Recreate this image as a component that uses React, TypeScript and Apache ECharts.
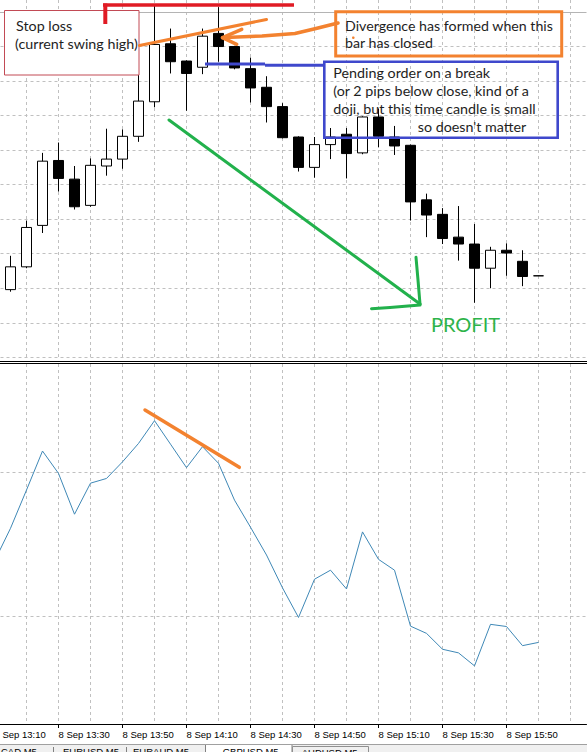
import React, { useEffect, useRef } from "react";
import * as echarts from "echarts";

// Time categories (M5 bars), tick labels come from these
const categories = [
  "8 Sep 13:10", "8 Sep 13:15", "8 Sep 13:20", "8 Sep 13:25", "8 Sep 13:30", "8 Sep 13:35",
  "8 Sep 13:40", "8 Sep 13:45", "8 Sep 13:50", "8 Sep 13:55", "8 Sep 14:00", "8 Sep 14:05",
  "8 Sep 14:10", "8 Sep 14:15", "8 Sep 14:20", "8 Sep 14:25", "8 Sep 14:30", "8 Sep 14:35",
  "8 Sep 14:40", "8 Sep 14:45", "8 Sep 14:50", "8 Sep 14:55", "8 Sep 15:00", "8 Sep 15:05",
  "8 Sep 15:10", "8 Sep 15:15", "8 Sep 15:20", "8 Sep 15:25", "8 Sep 15:30", "8 Sep 15:35",
  "8 Sep 15:40", "8 Sep 15:45", "8 Sep 15:50", "8 Sep 15:55", "8 Sep 16:00", "8 Sep 16:05",
  "8 Sep 16:10", "8 Sep 16:15",
];

// GBPUSD M5 candles, first bar 13:15, last bar 16:00
const opens = [
  1.61598, 1.61631, 1.61691, 1.61785, 1.61758, 1.61720, 1.61777, 1.61787, 1.61820, 1.61870,
  1.61954, 1.61929, 1.61920, 1.61969, 1.61950, 1.61918, 1.61891, 1.61863, 1.61819, 1.61775,
  1.61808, 1.61823, 1.61796, 1.61848, 1.61819, 1.61807, 1.61728, 1.61707, 1.61674, 1.61664,
  1.61629, 1.61655, 1.61639, 1.61618,
];
const closes = [
  1.61631, 1.61688, 1.61784, 1.61759, 1.61718, 1.61778, 1.61787, 1.61820, 1.61871, 1.61953,
  1.61928, 1.61911, 1.61965, 1.61950, 1.61919, 1.61890, 1.61863, 1.61818, 1.61775, 1.61808,
  1.61819, 1.61795, 1.61848, 1.61820, 1.61806, 1.61725, 1.61706, 1.61672, 1.61664, 1.61629,
  1.61655, 1.61651, 1.61617, 1.61618,
];
const lows = [
  1.61595, 1.61629, 1.61680, 1.61740, 1.61714, 1.61718, 1.61763, 1.61773, 1.61812, 1.61862,
  1.61911, 1.61857, 1.61910, 1.61928, 1.61917, 1.61869, 1.61840, 1.61817, 1.61769, 1.61760,
  1.61787, 1.61759, 1.61794, 1.61804, 1.61793, 1.61698, 1.61674, 1.61664, 1.61640, 1.61579,
  1.61600, 1.61618, 1.61603, 1.61618,
];
const highs = [
  1.61647, 1.61698, 1.61796, 1.61811, 1.61777, 1.61788, 1.61831, 1.61830, 1.61909, 1.62009,
  1.61976, 1.61930, 1.61976, 1.62007, 1.61951, 1.61934, 1.61907, 1.61868, 1.61820, 1.61819,
  1.61832, 1.61832, 1.61849, 1.61860, 1.61835, 1.61808, 1.61737, 1.61716, 1.61719, 1.61693,
  1.61660, 1.61665, 1.61655, 1.61618,
];
const bidPrice = 1.61618;
// price grid levels (first, last, step)
const priceLevels = [1.615, 1.62];
const priceStep = 0.0005;

// Oscillator, first value 13:10, last 16:00
const oscillator = [
  0.000154, 0.000245, 0.000351, 0.000459, 0.000397, 0.000284, 0.00037, 0.000383, 0.000429,
  0.00048, 0.000543, 0.000478, 0.000413, 0.000471, 0.000425, 0.000323, 0.000248, 0.000171,
  0.00008, -0.000002, 0.000104, 0.000129, 0.000077, 0.000235, 0.000159, 0.000129, -0.000026,
  -0.000046, -0.00009, -0.0001, -0.000136, -0.000021, -0.000027, -0.00008, -0.000071,
];
const oscLevels = [0, 0.0004];

const GRID = "#c0c0c0";
const DASH = [3, 3];
const ORANGE = "#f3822f";
const BLUE = "#3f48cc";
const GREEN = "#22b14c";
const RED = "#e01b24";
const TEXTC = "#1e1e1e";
const NOTE_FONT = "14.3px Lato";
const BIG_NOTE_FONT = "14.2px Lato";
const TAB_FONT = "9.5px Liberation Sans";

const txt = (text: string, x: number, y: number, font: string, fill: string, align = "left") => ({
  type: "text",
  x,
  y,
  z: 100,
  silent: true,
  style: { text, font, fill, align, textAlign: align, verticalAlign: "middle", textVerticalAlign: "middle" },
});
const ln = (x1: number, y1: number, x2: number, y2: number, stroke: string, lineWidth: number, cap = "round") => ({
  type: "line",
  z: 100,
  silent: true,
  shape: { x1, y1, x2, y2 },
  style: { stroke, lineWidth, lineCap: cap },
});
const poly = (points: number[][], stroke: string, lineWidth: number) => ({
  type: "polyline",
  z: 100,
  silent: true,
  shape: { points },
  style: { stroke, lineWidth, fill: "none", lineCap: "round", lineJoin: "round" },
});
const box = (x: number, y: number, w: number, h: number, stroke: string, lineWidth: number, fill = "none") => ({
  type: "rect",
  z: 99,
  silent: true,
  shape: { x, y, width: w, height: h },
  style: { stroke, lineWidth, fill },
});

export default function App() {
  const ref = useRef<HTMLDivElement>(null);
  useEffect(() => {
    const chart = echarts.init(ref.current!, null, { renderer: "svg" });

    const candleData = categories.map((_, i) => {
      const k = i - 1;
      return k >= 0 && k < opens.length ? [opens[k], closes[k], lows[k], highs[k]] : ["-", "-", "-", "-"];
    });
    const oscData = categories.map((_, i) => (i < oscillator.length ? oscillator[i] : "-"));

    const vSplit = {
      show: true,
      interval: (i: number) => i % 2 === 0,
      lineStyle: { color: GRID, type: DASH, width: 1 },
    };
    const hSplit = { show: true, lineStyle: { color: GRID, type: DASH, width: 1 } };
    const labelEvery = (i: number) => i % 4 === 0 && i < 36;
    const hidden = { axisLine: { show: false }, axisTick: { show: false }, axisLabel: { show: false } };
    const g = { left: -5.5, right: 0.5, outerBoundsMode: "none", containLabel: false };

    const option: any = {
      animation: false,
      backgroundColor: "#ffffff",
      grid: [
        { ...g, top: 0, height: 360 },
        { ...g, top: 364, height: 360 },
        { ...g, top: 12, height: 345.3 },
        { ...g, top: 472.3, height: 144.4 },
      ],
      xAxis: [
        { type: "category", gridIndex: 0, data: categories, boundaryGap: false, ...hidden, splitLine: vSplit },
        {
          type: "category", gridIndex: 1, data: categories, boundaryGap: false,
          axisLine: { show: true, onZero: false, lineStyle: { color: "#000", width: 1 } },
          axisTick: { show: true, interval: labelEvery, length: 4, lineStyle: { color: "#000" } },
          axisLabel: {
            show: true, interval: labelEvery, align: "left", margin: 5, fontSize: 9.5,
            fontFamily: "Liberation Sans", color: "#000",
          },
          splitLine: vSplit,
        },
        { type: "category", gridIndex: 2, data: categories, boundaryGap: false, ...hidden, splitLine: { show: false } },
        { type: "category", gridIndex: 3, data: categories, boundaryGap: false, ...hidden, splitLine: { show: false } },
      ],
      yAxis: [
        { type: "value", gridIndex: 0, min: 1.6149609, max: 1.6201738, show: false },
        { type: "value", gridIndex: 1, min: -0.000297, max: 0.0007, show: false },
        {
          type: "value", gridIndex: 2, min: priceLevels[0], max: priceLevels[1], interval: priceStep,
          ...hidden, splitLine: hSplit,
        },
        {
          type: "value", gridIndex: 3, min: oscLevels[0], max: oscLevels[1], interval: oscLevels[1] - oscLevels[0],
          ...hidden, splitLine: hSplit,
        },
      ],
      series: [
        {
          type: "candlestick",
          xAxisIndex: 0, yAxisIndex: 0,
          data: candleData,
          barWidth: 10,
          silent: true,
          z: 3,
          itemStyle: { color: "#ffffff", color0: "#000000", borderColor: "#000000", borderColor0: "#000000", borderWidth: 1 },
          markLine: {
            silent: true, z: 1, symbol: ["none", "none"], label: { show: false },
            data: [{ yAxis: bidPrice, lineStyle: { color: "#b4b4b4", type: "solid", width: 1 } }],
          },
        },
        {
          type: "line",
          xAxisIndex: 1, yAxisIndex: 1,
          data: oscData,
          symbol: "none",
          silent: true,
          z: 3,
          lineStyle: { color: "#3f88b6", width: 1 },
        },
      ],
      graphic: [
        // panel separator
        ln(0, 361.5, 587, 361.5, "#000", 1, "butt"),
        ln(0, 363.5, 587, 363.5, "#000", 1, "butt"),
        // stop loss
        ln(103, 5, 294, 5, RED, 3.4, "butt"),
        ln(105.3, 3.5, 105.3, 24, RED, 4, "butt"),
        box(4.5, 10.5, 134.5, 64.5, "#c24a55", 1, "#ffffff"),
        txt("Stop loss", 16, 25, NOTE_FONT, TEXTC),
        txt("(current swing high)", 15, 43.3, NOTE_FONT, TEXTC),
        // divergence on price
        ln(139.5, 45.5, 266.5, 19.5, ORANGE, 3),
        poly([[338, 23], [316, 28.5], [295, 33.5], [262, 36], [225, 37.5]], ORANGE, 3.5),
        ln(222.5, 37.7, 241.7, 29.3, ORANGE, 3.5),
        ln(222.5, 37.7, 236.7, 44.3, ORANGE, 3.5),
        box(335.7, 11.7, 226, 44.3, ORANGE, 3),
        txt("Divergence has formed when this", 345, 25, BIG_NOTE_FONT, TEXTC),
        txt("bar has closed", 345, 42.3, BIG_NOTE_FONT, TEXTC),
        { type: "circle", z: 100, silent: true, shape: { cx: 353.3, cy: 37.7, r: 1.3 }, style: { fill: ORANGE } },
        // pending order
        ln(205, 64, 265, 64, BLUE, 3, "butt"),
        ln(265, 65.3, 325, 65.3, BLUE, 3, "butt"),
        box(324.3, 61.7, 233.4, 76, BLUE, 2.6),
        txt("Pending order on a break", 333.3, 72.3, NOTE_FONT, TEXTC),
        txt("(or 2 pips below close, kind of a", 333.3, 90.7, NOTE_FONT, TEXTC),
        txt("doji, but this time candle is small", 333.3, 108.3, NOTE_FONT, TEXTC),
        txt("so doesn't matter", 417.7, 126.7, NOTE_FONT, TEXTC),
        // profit arrow
        ln(169, 120, 420, 304, GREEN, 3),
        poly([[416, 257.3], [418, 280], [420, 304]], GREEN, 3),
        poly([[371.5, 308.7], [390, 307.5], [420, 305]], GREEN, 3),
        txt("PROFIT", 465.5, 324, "20px Lato", "#2db34a", "center"),
        // oscillator divergence line
        ln(145, 410, 239.3, 467.3, ORANGE, 3.5),
        // terminal tabs
        { type: "rect", z: 90, silent: true, shape: { x: 0, y: 744, width: 587, height: 8 }, style: { fill: "#f0f0f0" } },
        ln(0, 744.5, 587, 744.5, "#a0a0a0", 1, "butt"),
        ln(53.5, 747, 53.5, 752, "#808080", 1, "butt"),
        ln(126.5, 747, 126.5, 752, "#808080", 1, "butt"),
        box(205.5, 744.5, 86.5, 10, "#808080", 1, "#ffffff"),
        box(292.5, 746.5, 76, 10, "#909090", 1, "#f0f0f0"),
        txt("CAD,M5", 1, 751, TAB_FONT, "#000"),
        txt("EURUSD,M5", 63, 751, TAB_FONT, "#000"),
        txt("EURAUD,M5", 133, 751, TAB_FONT, "#000"),
        txt("GBPUSD,M5", 222.7, 751, TAB_FONT, "#000"),
        txt("AUDUSD,M5", 301.7, 752, TAB_FONT, "#000"),
      ],
    };

    chart.setOption(option);
    return () => chart.dispose();
  }, []);

  return (
    <div
      ref={ref}
      style={{ position: "fixed", left: 0, top: 0, width: 587, height: 752, background: "#fff" }}
    />
  );
}
